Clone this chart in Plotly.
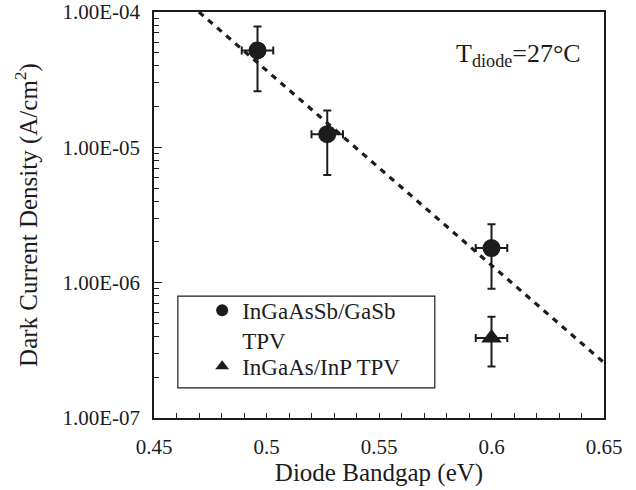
import plotly.graph_objects as go

# InGaAsSb/GaSb TPV data
bandgap_sb = [0.496, 0.527, 0.600]
dark_sb = [5.2e-5, 1.25e-5, 1.8e-6]
dark_sb_hi = [7.8e-5, 1.875e-5, 2.7e-6]
dark_sb_lo = [2.6e-5, 6.25e-6, 9.0e-7]
bandgap_err_sb = [0.007, 0.007, 0.007]

# InGaAs/InP TPV data
bandgap_inp = [0.600]
dark_inp = [3.9e-7]
dark_inp_hi = [5.6e-7]
dark_inp_lo = [2.4e-7]
bandgap_err_inp = [0.007]

# Dashed fit line
fit_bandgap = [0.47, 0.652]
fit_dark = [1.0e-4, 2.4e-7]

ytick_vals = [1e-7, 1e-6, 1e-5, 1e-4]
ytick_text = ["1.00E-07", "1.00E-06", "1.00E-05", "1.00E-04"]
xtick_vals = [0.45, 0.5, 0.55, 0.6, 0.65]
xtick_text = ["0.45", "0.5", "0.55", "0.6", "0.65"]

FONT = "Liberation Serif, Times New Roman, serif"
INK = "#1c1c1c"

fig = go.Figure()

fig.add_trace(go.Scatter(
    x=fit_bandgap, y=fit_dark, mode="lines",
    line=dict(color=INK, width=3.2, dash="6px,6px"),
    showlegend=False, hoverinfo="skip", cliponaxis=False))

fig.add_trace(go.Scatter(
    x=bandgap_sb, y=dark_sb, mode="markers",
    name="InGaAsSb/GaSb<br>TPV", legend="legend",
    marker=dict(symbol="circle", size=18, color=INK),
    error_y=dict(type="data", symmetric=False,
                 array=[h - v for h, v in zip(dark_sb_hi, dark_sb)],
                 arrayminus=[v - l for v, l in zip(dark_sb, dark_sb_lo)],
                 color=INK, thickness=2, width=4),
    error_x=dict(type="data", array=bandgap_err_sb, color=INK, thickness=2, width=4)))

fig.add_trace(go.Scatter(
    x=bandgap_inp, y=dark_inp, mode="markers",
    name="InGaAs/InP TPV", legend="legend2",
    marker=dict(symbol="triangle-up", size=18, color=INK),
    error_y=dict(type="data", symmetric=False,
                 array=[h - v for h, v in zip(dark_inp_hi, dark_inp)],
                 arrayminus=[v - l for v, l in zip(dark_inp, dark_inp_lo)],
                 color=INK, thickness=2, width=4),
    error_x=dict(type="data", array=bandgap_err_inp, color=INK, thickness=2, width=4)))

legend_style = dict(xanchor="left", yanchor="top",
                    bgcolor="rgba(0,0,0,0)", borderwidth=0,
                    font=dict(family=FONT, size=23, color=INK),
                    valign="top", itemsizing="constant", tracegroupgap=0)

fig.update_layout(
    width=636, height=490,
    margin=dict(l=154, r=32, t=12, b=72, autoexpand=False),
    paper_bgcolor="white", plot_bgcolor="white",
    font=dict(family=FONT, size=20, color=INK),
    showlegend=True,
    legend=dict(x=0.107, y=0.318, **legend_style),
    legend2=dict(x=0.107, y=0.18, **legend_style),
    shapes=[dict(type="rect", xref="paper", yref="paper",
                 x0=0.053, x1=0.624, y0=0.074, y1=0.3,
                 line=dict(color=INK, width=1.2), fillcolor="rgba(0,0,0,0)")],
    annotations=[dict(text="T<sub>diode</sub>=27°C", xref="paper", yref="paper",
                      x=0.953, y=0.894, xanchor="right", yanchor="middle",
                      showarrow=False, font=dict(family=FONT, size=26, color=INK))],
)

fig.update_xaxes(
    range=[0.45, 0.65], tickvals=xtick_vals, ticktext=xtick_text,
    ticks="inside", ticklen=5, tickwidth=1.2, tickcolor=INK,
    minor=dict(ticks="inside", dtick=0.01, ticklen=5, tickwidth=1.2, tickcolor=INK),
    showline=True, linecolor=INK, linewidth=1.5, mirror=True, showgrid=False,
    zeroline=False, tickfont=dict(family=FONT, size=21), ticklabelstandoff=9,
    automargin=False, ticklabeloverflow="allow",
    title=dict(text="Diode Bandgap (eV)", font=dict(family=FONT, size=25), standoff=4))

fig.update_yaxes(
    type="log", range=[-7, -4], tickvals=ytick_vals, ticktext=ytick_text,
    ticks="inside", ticklen=8, tickwidth=1.2, tickcolor=INK,
    minor=dict(ticks="inside", dtick="D1", ticklen=5, tickwidth=1.2, tickcolor=INK, showgrid=False),
    showline=True, linecolor=INK, linewidth=1.5, mirror=True, showgrid=False,
    zeroline=False, tickfont=dict(family=FONT, size=21), ticklabelstandoff=8,
    automargin=False, ticklabeloverflow="allow",
    title=dict(text="Dark Current Density (A/cm<sup>2</sup>)", font=dict(family=FONT, size=25), standoff=18))

fig.write_html("out.html", config=dict(displayModeBar=False),
               post_script="document.body.style.margin='0';")
